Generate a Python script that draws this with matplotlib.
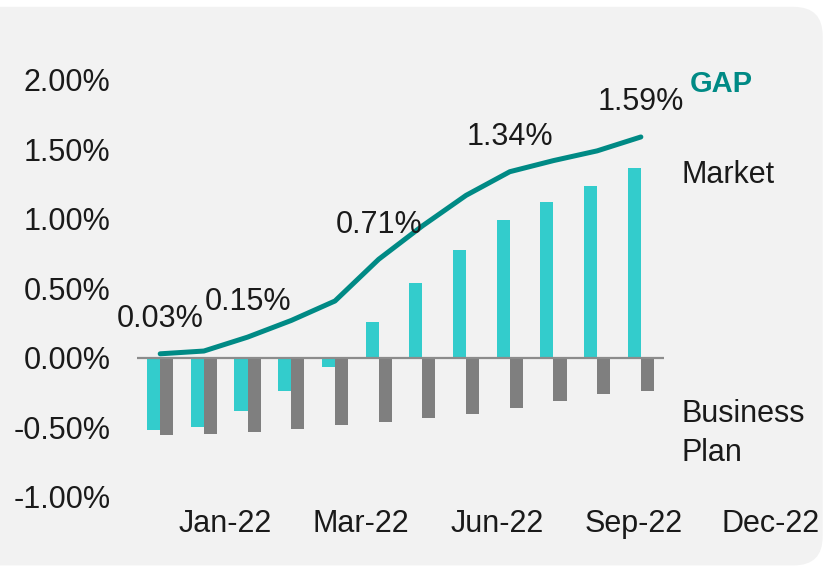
import matplotlib
matplotlib.use("Agg")
import matplotlib.pyplot as plt
from matplotlib.patches import FancyBboxPatch
import numpy as np

months = ["Dec-21", "Jan-22", "Feb-22", "Mar-22", "Apr-22", "May-22",
          "Jun-22", "Jul-22", "Aug-22", "Sep-22", "Oct-22", "Nov-22"]
market = [-0.52, -0.50, -0.38, -0.24, -0.063, 0.26, 0.54, 0.78, 0.99, 1.12, 1.24, 1.37]
business_plan = [-0.555, -0.545, -0.53, -0.51, -0.48, -0.46, -0.433, -0.40, -0.36, -0.31, -0.26, -0.235]
gap = [0.03, 0.05, 0.15, 0.27, 0.41, 0.71, 0.95, 1.17, 1.34, 1.42, 1.49, 1.59]
gap_labels = {0: "0.03%", 2: "0.15%", 5: "0.71%", 8: "1.34%", 11: "1.59%"}
xtick_labels = ["Jan-22", "Mar-22", "Jun-22", "Sep-22", "Dec-22"]
yticks = [-1.0, -0.5, 0.0, 0.5, 1.0, 1.5, 2.0]

plt.rcParams['font.family'] = ['Liberation Sans', 'DejaVu Sans']
txt = '#1A1A1A'
teal = '#008A85'

fig = plt.figure(figsize=(8.26, 5.70), dpi=100)
fig.patch.set_facecolor('white')
panel = FancyBboxPatch((-0.05, 0.008), 1.046, 0.98, boxstyle="round,pad=0,rounding_size=0.035",
                       transform=fig.transFigure, facecolor='#F2F2F2', edgecolor='none',
                       mutation_aspect=826 / 570, zorder=-10)
fig.patches.append(panel)

ax = fig.add_axes([0.1659, 0.1281, 0.638, 0.7316])
ax.set_zorder(1)
ax.set_facecolor('none')
x = np.arange(len(months))
w = 0.3
ax.bar(x - w / 2, market, width=w, color='#33CCCC', zorder=2)
ax.bar(x + w / 2, business_plan, width=w, color='#7F7F7F', zorder=2)
ax.axhline(0, color='#8C8C8C', lw=1.6, zorder=3)
ax.plot(x, gap, color=teal, lw=3.6, solid_capstyle='round', solid_joinstyle='round', zorder=4)

for i, lab in gap_labels.items():
    ax.annotate(lab, (x[i], gap[i]), xytext=(0, 25), textcoords='offset points',
                ha='center', va='center', fontsize=22, color=txt, zorder=5)

ax.set_xlim(-0.53, 11.53)
ax.set_ylim(-1.0, 2.0)
ax.set_yticks(yticks)
ax.set_yticklabels([f"{v:.2f}%" for v in yticks], fontsize=22, color=txt)
ax.tick_params(axis='y', length=0, pad=19)
ax.set_xticks([])
for s in ax.spines.values():
    s.set_visible(False)

# month labels sit between the bar groups, like the original date axis
tick_pos = [1.49, 4.58, 7.71, 10.84, 13.97]
trans = ax.get_xaxis_transform()
for p, lab in zip(tick_pos, xtick_labels):
    ax.text(p, -0.065, lab, transform=trans, ha='center', va='center',
            fontsize=22, color=txt, clip_on=False)

ax.text(1.049, 0.99, "GAP", transform=ax.transAxes, ha='left', va='center',
        fontsize=21, fontweight='bold', color=teal, clip_on=False)
ax.text(1.034, 0.772, "Market", transform=ax.transAxes, ha='left', va='center',
        fontsize=22, color=txt, clip_on=False)
ax.text(1.034, 0.152, "Business\nPlan", transform=ax.transAxes, ha='left', va='center',
        fontsize=22, color=txt, linespacing=1.38, clip_on=False)

fig.savefig("out.png", dpi=100)
